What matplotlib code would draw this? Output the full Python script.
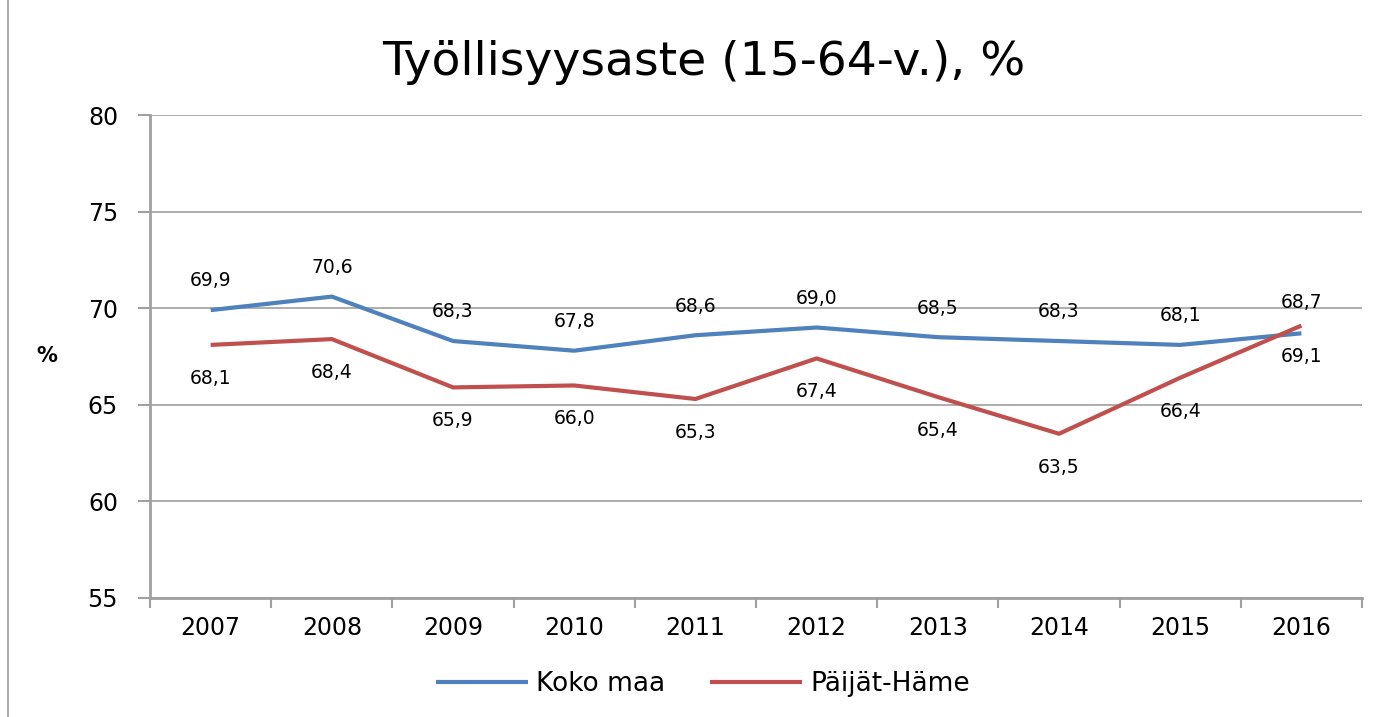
import matplotlib.pyplot as plt
from matplotlib.patches import Rectangle

years = ['2007', '2008', '2009', '2010', '2011', '2012', '2013', '2014', '2015', '2016']
koko_maa = [69.9, 70.6, 68.3, 67.8, 68.6, 69.0, 68.5, 68.3, 68.1, 68.7]
paijat_hame = [68.1, 68.4, 65.9, 66.0, 65.3, 67.4, 65.4, 63.5, 66.4, 69.1]

blue = '#4F81BD'
red = '#C0504D'
grid_col = '#a0a0a0'

fig = plt.figure(figsize=(13.78, 7.17), dpi=100)
ax = fig.add_axes([0.1089, 0.166, 0.8795, 0.6736])

x = list(range(len(years)))
ax.plot(x, koko_maa, color=blue, lw=3, label='Koko maa', solid_capstyle='butt')
ax.plot(x, paijat_hame, color=red, lw=3, label='Päijät-Häme', solid_capstyle='butt')

# data labels: blue above, red below (swapped at the last point like the original)
for i in x:
    if i == len(x) - 1:
        up, down = 22, -22
    else:
        up, down = 21, -24
    ax.annotate(f'{koko_maa[i]:.1f}'.replace('.', ','), (i, koko_maa[i]), xytext=(0, up),
                textcoords='offset points', ha='center', va='center', fontsize=13.5)
    ax.annotate(f'{paijat_hame[i]:.1f}'.replace('.', ','), (i, paijat_hame[i]), xytext=(0, down),
                textcoords='offset points', ha='center', va='center', fontsize=13.5)

ax.set_xlim(-0.5, len(years) - 0.5)
ax.set_ylim(55, 80)
ax.set_yticks([55, 60, 65, 70, 75, 80])
ax.set_xticks(x)
ax.set_xticklabels(years)
ax.set_xticks([i - 0.5 for i in range(len(years) + 1)], minor=True)
ax.tick_params(axis='x', which='major', length=0, labelsize=17, pad=13)
ax.tick_params(axis='x', which='minor', length=7, color=grid_col, width=1.5)
ax.tick_params(axis='y', length=9, color=grid_col, width=1.5, labelsize=17, pad=14)

ax.grid(axis='y', color=grid_col, lw=1.2)
ax.set_axisbelow(True)
for s in ['top', 'right']:
    ax.spines[s].set_visible(False)
ax.spines['left'].set_color(grid_col)
ax.spines['left'].set_linewidth(2)
ax.spines['bottom'].set_color(grid_col)
ax.spines['bottom'].set_linewidth(2)

ax.set_ylabel('%', rotation=0, fontsize=15, fontweight='bold', va='center')
ax.yaxis.set_label_coords(-0.085, 0.5)

fig.text(0.511, 0.913, 'Työllisyysaste (15-64-v.), %', ha='center', va='center', fontsize=34)

fig.legend(loc='center', bbox_to_anchor=(0.51, 0.046), ncol=2, frameon=False, fontsize=19,
           handlelength=3.5, columnspacing=1.7, handletextpad=0.3)

fig.patches.append(Rectangle((0.006, -0.01), 1.1, 1.02, transform=fig.transFigure,
                             fill=False, edgecolor='#999999', lw=1.2))

fig.savefig('out.png', dpi=100)
